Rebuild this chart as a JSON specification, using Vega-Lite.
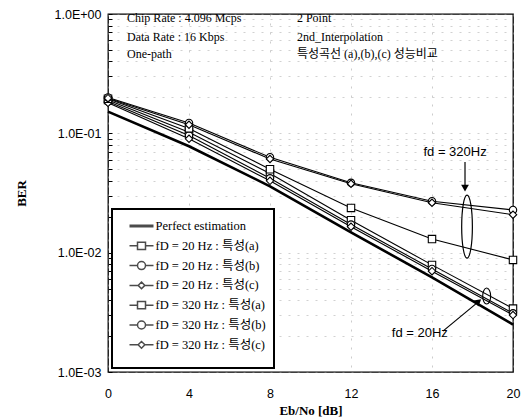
{
  "$schema": "https://vega.github.io/schema/vega-lite/v6.json",
  "width": 405,
  "height": 358,
  "autosize": "none",
  "padding": {"left": 108, "top": 14, "right": 10, "bottom": 48},
  "background": "white",
  "config": {
    "view": {"stroke": "black", "strokeWidth": 1.3},
    "legend": {"fillColor": "white", "strokeColor": "black", "strokeWidth": 2, "padding": 8, "cornerRadius": 0}
  },
  "datasets": {
    "curves": [
      {"series": "Perfect estimation", "x": 0, "ber": 0.152},
      {"series": "Perfect estimation", "x": 4, "ber": 0.078},
      {"series": "Perfect estimation", "x": 8, "ber": 0.036},
      {"series": "Perfect estimation", "x": 12, "ber": 0.0148},
      {"series": "Perfect estimation", "x": 16, "ber": 0.0062},
      {"series": "Perfect estimation", "x": 20, "ber": 0.0025},
      {"series": "fD = 20 Hz : 특성(a)", "x": 0, "ber": 0.19},
      {"series": "fD = 20 Hz : 특성(a)", "x": 4, "ber": 0.102},
      {"series": "fD = 20 Hz : 특성(a)", "x": 8, "ber": 0.046},
      {"series": "fD = 20 Hz : 특성(a)", "x": 12, "ber": 0.0187},
      {"series": "fD = 20 Hz : 특성(a)", "x": 16, "ber": 0.0079},
      {"series": "fD = 20 Hz : 특성(a)", "x": 20, "ber": 0.0034},
      {"series": "fD = 20 Hz : 특성(b)", "x": 0, "ber": 0.185},
      {"series": "fD = 20 Hz : 특성(b)", "x": 4, "ber": 0.096},
      {"series": "fD = 20 Hz : 특성(b)", "x": 8, "ber": 0.042},
      {"series": "fD = 20 Hz : 특성(b)", "x": 12, "ber": 0.0172},
      {"series": "fD = 20 Hz : 특성(b)", "x": 16, "ber": 0.0073},
      {"series": "fD = 20 Hz : 특성(b)", "x": 20, "ber": 0.0031},
      {"series": "fD = 20 Hz : 특성(c)", "x": 0, "ber": 0.18},
      {"series": "fD = 20 Hz : 특성(c)", "x": 4, "ber": 0.09},
      {"series": "fD = 20 Hz : 특성(c)", "x": 8, "ber": 0.04},
      {"series": "fD = 20 Hz : 특성(c)", "x": 12, "ber": 0.0165},
      {"series": "fD = 20 Hz : 특성(c)", "x": 16, "ber": 0.007},
      {"series": "fD = 20 Hz : 특성(c)", "x": 20, "ber": 0.003},
      {"series": "fD = 320 Hz : 특성(a)", "x": 0, "ber": 0.195},
      {"series": "fD = 320 Hz : 특성(a)", "x": 4, "ber": 0.11},
      {"series": "fD = 320 Hz : 특성(a)", "x": 8, "ber": 0.05},
      {"series": "fD = 320 Hz : 특성(a)", "x": 12, "ber": 0.0237},
      {"series": "fD = 320 Hz : 특성(a)", "x": 16, "ber": 0.013},
      {"series": "fD = 320 Hz : 특성(a)", "x": 20, "ber": 0.0087},
      {"series": "fD = 320 Hz : 특성(b)", "x": 0, "ber": 0.2},
      {"series": "fD = 320 Hz : 특성(b)", "x": 4, "ber": 0.122},
      {"series": "fD = 320 Hz : 특성(b)", "x": 8, "ber": 0.063},
      {"series": "fD = 320 Hz : 특성(b)", "x": 12, "ber": 0.0385},
      {"series": "fD = 320 Hz : 특성(b)", "x": 16, "ber": 0.027},
      {"series": "fD = 320 Hz : 특성(b)", "x": 20, "ber": 0.0228},
      {"series": "fD = 320 Hz : 특성(c)", "x": 0, "ber": 0.197},
      {"series": "fD = 320 Hz : 특성(c)", "x": 4, "ber": 0.118},
      {"series": "fD = 320 Hz : 특성(c)", "x": 8, "ber": 0.061},
      {"series": "fD = 320 Hz : 특성(c)", "x": 12, "ber": 0.0378},
      {"series": "fD = 320 Hz : 특성(c)", "x": 16, "ber": 0.0262},
      {"series": "fD = 320 Hz : 특성(c)", "x": 20, "ber": 0.0208}
    ],
    "info": [
      {"x": 0.94, "ber": 0.926, "label": "Chip Rate : 4.096 Mcps", "kind": "en"},
      {"x": 0.94, "ber": 0.641, "label": "Data Rate : 16 Kbps", "kind": "en"},
      {"x": 0.94, "ber": 0.462, "label": "One-path", "kind": "en"},
      {"x": 9.33, "ber": 0.926, "label": "2 Point", "kind": "en"},
      {"x": 9.33, "ber": 0.641, "label": "2nd_Interpolation", "kind": "en"},
      {"x": 9.33, "ber": 0.462, "label": "특성곡선 (a),(b),(c) 성능비교", "kind": "ko"}
    ],
    "fdlabels": [
      {"x": 17.14, "ber": 0.0697, "label": "fd = 320Hz"},
      {"x": 15.4, "ber": 0.00212, "label": "fd = 20Hz"}
    ],
    "arrows": [
      {"x": 17.63, "ber": 0.0574, "x2": 17.63, "ber2": 0.036},
      {"x": 16.54, "ber": 0.0022, "x2": 18.27, "ber2": 0.00385}
    ],
    "headDown": [{"x": 17.63, "ber": 0.0348}],
    "headDiag": [{"x": 18.3, "ber": 0.0039}],
    "bigEllipse": [{"x": 17.73, "ber": 0.0165}],
    "smallEllipse": [{"x": 18.7, "ber": 0.00433}]
  },
  "layer": [
    {
      "data": {"name": "curves"},
      "mark": {"type": "line", "stroke": "black"},
      "encoding": {
        "x": {
          "field": "x", "type": "quantitative",
          "scale": {"domain": [0, 20], "nice": false, "zero": false},
          "axis": {
            "title": "Eb/No [dB]", "values": [0, 4, 8, 12, 16, 20], "labelFlush": false,
            "ticks": false, "domain": false, "labelPadding": 15,
            "labelFont": "Liberation Sans", "labelFontSize": 12.5, "labelColor": "black",
            "titleFont": "Liberation Serif", "titleFontSize": 13, "titleFontWeight": "bold", "titleColor": "black",
            "titleY": 38, "titleBaseline": "middle",
            "grid": true, "gridColor": "#999", "gridDash": [2, 7], "gridOpacity": 0.5
          }
        },
        "y": {
          "field": "ber", "type": "quantitative",
          "scale": {"type": "log", "domain": [0.001, 1], "nice": false},
          "axis": {
            "title": "BER",
            "values": [0.001, 0.002, 0.003, 0.004, 0.005, 0.006, 0.007, 0.008, 0.009, 0.01, 0.02, 0.03, 0.04, 0.05, 0.06, 0.07, 0.08, 0.09, 0.1, 0.2, 0.3, 0.4, 0.5, 0.6, 0.7, 0.8, 0.9, 1],
            "labelExpr": "datum.value == 1 ? '1.0E+00' : datum.value == 0.1 ? '1.0E-01' : datum.value == 0.01 ? '1.0E-02' : datum.value == 0.001 ? '1.0E-03' : ''",
            "labelOverlap": false,
            "domain": false, "tickSize": -4, "tickColor": "black", "labelPadding": 11,
            "labelFont": "Liberation Sans", "labelFontSize": 12.5, "labelColor": "black",
            "titleFont": "Liberation Serif", "titleFontSize": 13, "titleFontWeight": "bold", "titleColor": "black",
            "titleX": -80,
            "grid": true, "gridColor": "#999", "gridDash": [2, 7], "gridOpacity": 0.45
          }
        },
        "detail": {"field": "series"},
        "strokeWidth": {"condition": {"test": "datum.series === 'Perfect estimation'", "value": 2.6}, "value": 1.1}
      }
    },
    {
      "data": {"name": "curves"},
      "transform": [{"filter": "datum.series !== 'Perfect estimation'"}],
      "mark": {"type": "point", "filled": false, "fill": "white", "fillOpacity": 1, "stroke": "black", "strokeWidth": 1.1, "size": 55, "opacity": 1},
      "encoding": {
        "x": {"field": "x", "type": "quantitative"},
        "y": {"field": "ber", "type": "quantitative"},
        "shape": {
          "field": "series", "type": "nominal",
          "scale": {
            "domain": ["fD = 20 Hz : 특성(a)", "fD = 20 Hz : 특성(b)", "fD = 20 Hz : 특성(c)", "fD = 320 Hz : 특성(a)", "fD = 320 Hz : 특성(b)", "fD = 320 Hz : 특성(c)"],
            "range": ["square", "circle", "diamond", "square", "circle", "diamond"]
          },
          "legend": null
        }
      }
    },
    {
      "data": {"name": "curves"},
      "transform": [{"filter": "false"}],
      "mark": {"type": "point", "filled": false, "fill": "white", "stroke": "black", "strokeWidth": 1},
      "encoding": {
        "x": {"field": "x", "type": "quantitative"},
        "y": {"field": "ber", "type": "quantitative"},
        "shape": {
          "field": "series", "type": "nominal",
          "scale": {
            "domain": ["Perfect estimation", "fD = 20 Hz : 특성(a)", "fD = 20 Hz : 특성(b)", "fD = 20 Hz : 특성(c)", "fD = 320 Hz : 특성(a)", "fD = 320 Hz : 특성(b)", "fD = 320 Hz : 특성(c)"],
            "range": [
              "M-1.5,-0.1H1.5M-1.5,0H1.5M-1.5,0.1H1.5",
              "M-1.5,0H-0.5M0.5,0H1.5M-0.5,-0.45H0.5V0.45H-0.5Z",
              "M-1.5,0H-0.5M0.5,0H1.5M-0.5,0A0.5,0.5,0,1,1,0.5,0A0.5,0.5,0,1,1,-0.5,0Z",
              "M-1.5,0H-0.42M0.42,0H1.5M0,-0.42L0.42,0L0,0.42L-0.42,0Z",
              "M-1.5,0H-0.5M0.5,0H1.5M-0.5,-0.45H0.5V0.45H-0.5Z",
              "M-1.5,0H-0.5M0.5,0H1.5M-0.5,0A0.5,0.5,0,1,1,0.5,0A0.5,0.5,0,1,1,-0.5,0Z",
              "M-1.5,0H-0.42M0.42,0H1.5M0,-0.42L0.42,0L0,0.42L-0.42,0Z"
            ]
          },
          "legend": {
            "title": " ", "titleOrient": "bottom", "titleFontSize": 7, "titlePadding": 2,
            "orient": "bottom-left", "offset": 4,
            "symbolSize": 256, "symbolOffset": 12.5,
            "labelOffset": 5, "labelFont": "Liberation Serif, Noto Sans CJK KR", "labelFontSize": 12.5,
            "labelColor": "black", "labelLimit": 300, "rowPadding": 3.8,
            "encode": {
              "symbols": {
                "update": {
                  "stroke": {"value": "black"},
                  "strokeWidth": {"value": 1},
                  "strokeOpacity": {"value": 1},
                  "fill": {"value": "white"},
                  "fillOpacity": {"value": 1},
                  "opacity": {"value": 1}
                }
              }
            }
          }
        }
      }
    },
    {
      "data": {"name": "info"},
      "mark": {"type": "text", "align": "left", "baseline": "middle", "font": "Liberation Serif, Noto Sans CJK KR", "fontSize": 12, "color": "black"},
      "encoding": {
        "x": {"field": "x", "type": "quantitative"},
        "y": {"field": "ber", "type": "quantitative"},
        "text": {"field": "label"},
        "fontWeight": {"condition": {"test": "datum.kind === 'en'", "value": "bold"}, "value": "normal"}
      }
    },
    {
      "data": {"name": "fdlabels"},
      "mark": {"type": "text", "align": "center", "baseline": "middle", "font": "Liberation Sans", "fontSize": 13, "color": "black"},
      "encoding": {
        "x": {"field": "x", "type": "quantitative"},
        "y": {"field": "ber", "type": "quantitative"},
        "text": {"field": "label"}
      }
    },
    {
      "data": {"name": "arrows"},
      "mark": {"type": "rule", "stroke": "black", "strokeWidth": 1.2},
      "encoding": {
        "x": {"field": "x", "type": "quantitative"},
        "y": {"field": "ber", "type": "quantitative"},
        "x2": {"field": "x2"},
        "y2": {"field": "ber2"}
      }
    },
    {
      "data": {"name": "headDown"},
      "mark": {"type": "point", "shape": "triangle-down", "filled": true, "color": "black", "size": 60, "opacity": 1},
      "encoding": {
        "x": {"field": "x", "type": "quantitative"},
        "y": {"field": "ber", "type": "quantitative"}
      }
    },
    {
      "data": {"name": "headDiag"},
      "mark": {"type": "point", "shape": "triangle-up", "filled": true, "color": "black", "size": 60, "angle": 51, "opacity": 1},
      "encoding": {
        "x": {"field": "x", "type": "quantitative"},
        "y": {"field": "ber", "type": "quantitative"}
      }
    },
    {
      "data": {"name": "bigEllipse"},
      "mark": {"type": "point", "shape": "M0,-1A0.17,1,0,1,1,0,1A0.17,1,0,1,1,0,-1Z", "filled": false, "stroke": "black", "strokeWidth": 1.2, "size": 3969, "opacity": 1},
      "encoding": {
        "x": {"field": "x", "type": "quantitative"},
        "y": {"field": "ber", "type": "quantitative"}
      }
    },
    {
      "data": {"name": "smallEllipse"},
      "mark": {"type": "point", "shape": "M0,-1A0.5,1,0,1,1,0,1A0.5,1,0,1,1,0,-1Z", "filled": false, "stroke": "black", "strokeWidth": 1.1, "size": 256, "opacity": 1},
      "encoding": {
        "x": {"field": "x", "type": "quantitative"},
        "y": {"field": "ber", "type": "quantitative"}
      }
    }
  ],
  "resolve": {"scale": {"shape": "independent"}, "legend": {"shape": "independent"}}
}
